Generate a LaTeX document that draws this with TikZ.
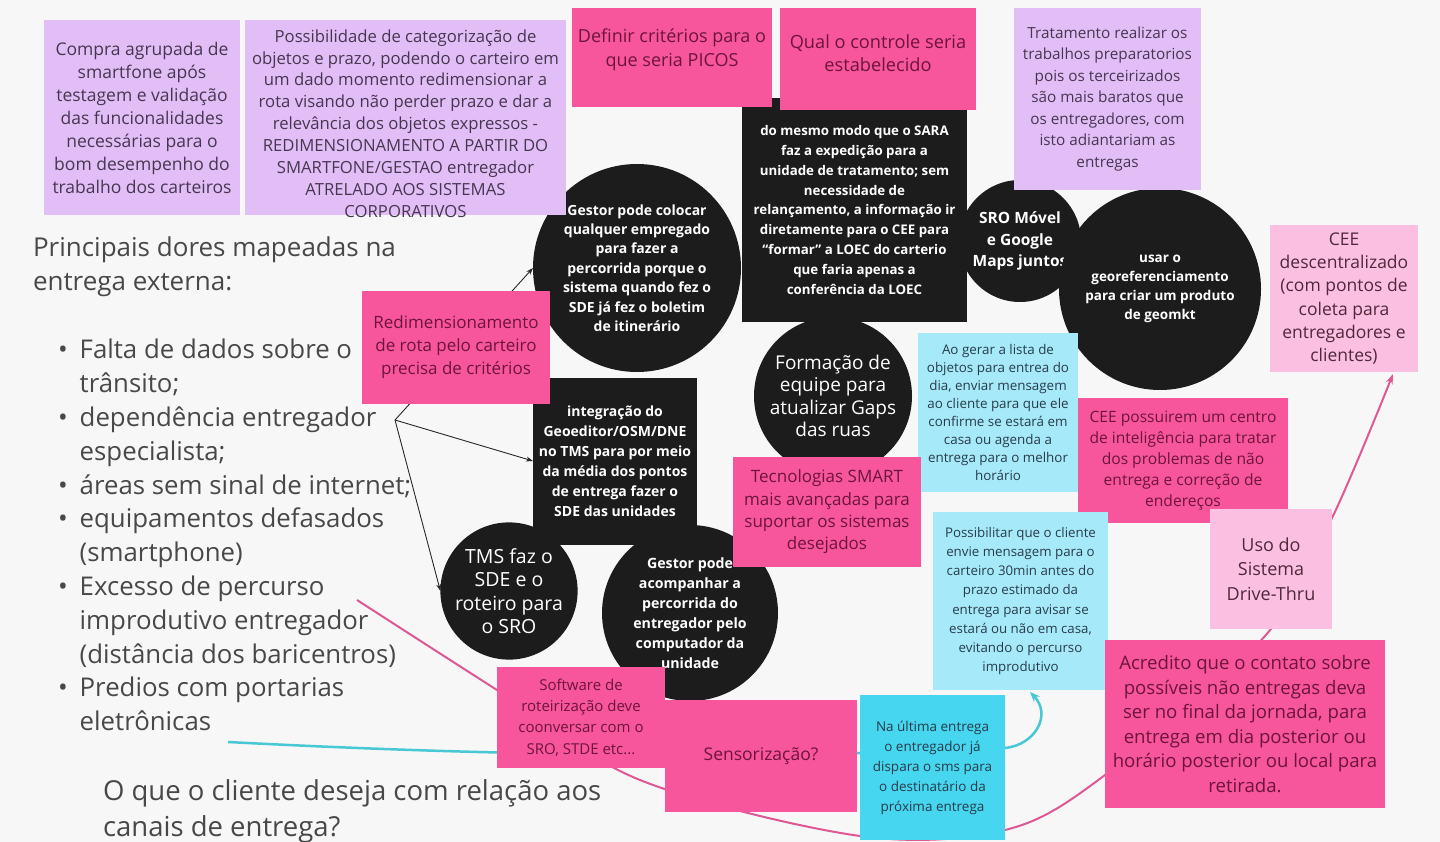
\documentclass[tikz,border=0pt]{standalone}
\usepackage{fontspec}
\setmainfont{Open Sans}
\usetikzlibrary{arrows.meta}
\definecolor{cBg}{RGB}{247,247,248}
\definecolor{cPurple}{RGB}{226,190,247}
\definecolor{cPurpleTxt}{RGB}{70,55,80}
\definecolor{cPink}{RGB}{247,86,156}
\definecolor{cPinkTxt}{RGB}{110,20,60}
\definecolor{cLPink}{RGB}{251,191,226}
\definecolor{cLPinkTxt}{RGB}{80,40,60}
\definecolor{cCyan}{RGB}{166,233,249}
\definecolor{cCyanB}{RGB}{70,214,239}
\definecolor{cCyanTxt}{RGB}{40,60,75}
\definecolor{cBlack}{RGB}{28,28,28}
\definecolor{cLeft}{RGB}{72,72,72}
\definecolor{cArr}{RGB}{40,40,40}
\definecolor{cPinkLine}{RGB}{222,88,148}
\definecolor{cCyanLine}{RGB}{72,200,212}
\newcommand\fsz[2]{\fontsize{#1}{#2}\selectfont}
\tikzset{
  every node/.style={inner sep=0pt, outer sep=0pt, align=center},
  purplebox/.style={rectangle, fill=cPurple, text=cPurpleTxt},
  pinkbox/.style={rectangle, fill=cPink, text=cPinkTxt},
  lpinkbox/.style={rectangle, fill=cLPink, text=cLPinkTxt},
  cyanbox/.style={rectangle, fill=cCyan, text=cCyanTxt},
  cyanboxb/.style={rectangle, fill=cCyanB, text=cCyanTxt},
  blackbox/.style={rectangle, fill=cBlack, text=white},
  blackcirc/.style={circle, fill=cBlack, text=white},
  lefttext/.style={text=cLeft, align=left},
  arr/.style={draw=cArr, line width=0.9pt, -{Stealth[length=7pt,width=5pt]}},
  pinkline/.style={draw=cPinkLine, line width=2pt, -{Stealth[length=10pt,width=7pt]}},
  cyanline/.style={draw=cCyanLine, line width=2.5pt, -{Stealth[length=10pt,width=8pt]}}
}
\begin{document}
\begin{tikzpicture}[x=1pt,y=-1pt]
\useasboundingbox (0,0) rectangle (1440,842);
\fill[cBg] (0,0) rectangle (1440,842);

% free ends of connectors
\coordinate (pkS) at (357,600);
\coordinate (pk1) at (497,690);
\coordinate (pk2) at (640,780);
\coordinate (pk3) at (860,836);
\coordinate (pk4) at (1005,830);
\coordinate (pk5) at (1105,775);
\coordinate (pk6) at (1265,636);
\coordinate (pk7) at (1332,518);
\coordinate (pkE) at (1393,374);
\coordinate (cyS) at (228,742);
\coordinate (cyM) at (1005,748);
\coordinate (cyE) at (1030,692);
\coordinate (dep) at (395,420);

% curves behind everything
\draw[pinkline] plot[smooth, tension=0.55] coordinates {(pkS) (pk1) (pk2) (pk3) (pk4) (pk5) (pk6) (pk7) (pkE)};
\draw[cyanline] (cyS) .. controls (420,752) and (700,762) .. (cyM) .. controls (1035,745) and (1052,715) .. (cyE);

% black shapes
\node[blackbox, minimum width=225pt, minimum height=224pt, font=\bfseries\fsz{13.3}{19.9}] (sara) at (854.5,210)
 {do mesmo modo que o SARA\\faz a expedição para a\\unidade de tratamento; sem\\necessidade de\\relançamento, a informação ir\\diretamente para o CEE para\\“formar” a LOEC do carterio\\que faria apenas a\\conferência da LOEC};
\node[blackcirc, minimum size=208pt, font=\bfseries\fsz{14}{19.4}] (gestorc) at (637,268)
 {Gestor pode colocar\\qualquer empregado\\para fazer a\\percorrida porque o\\sistema quando fez o\\SDE já fez o boletim\\de itinerário};
\node[blackcirc, minimum size=122pt, font=\bfseries\fsz{15.5}{21.5}] (sro) at (1020,241)
 {SRO Móvel\\e Google\\Maps juntos};
\node[blackcirc, minimum size=202pt, font=\bfseries\fsz{13.5}{19}] (geo) at (1160,289)
 {usar o\\georeferenciamento\\para criar um produto\\de geomkt};
\node[blackbox, minimum width=164pt, minimum height=167pt, font=\bfseries\fsz{14}{20}] (integ) at (615,461)
 {integração do\\Geoeditor/OSM/DNE\\no TMS para por meio\\da média dos pontos\\de entrega fazer o\\SDE das unidades};
\node[blackcirc, minimum size=158pt, font=\fsz{19}{22.5}] (form) at (833,396)
 {Formação de\\equipe para\\atualizar Gaps\\das ruas};
\node[blackcirc, minimum size=128pt, font=\fsz{19.5}{23.3}] (tms) at (509,591)
 {TMS faz o\\SDE e o\\roteiro para\\o SRO};
\node[blackcirc, minimum size=176pt, font=\bfseries\fsz{14.2}{20}] (gestora) at (690,613)
 {Gestor pode\\acompanhar a\\percorrida do\\entregador pelo\\computador da\\unidade};

% arrows from the list
\draw[arr] (dep) -- (gestorc.west);
\draw[arr] (dep) -- (integ.west);
\draw[arr] (dep) -- (tms.west);

% coloured notes
\node[purplebox, minimum width=196pt, minimum height=195pt, font=\fsz{17.5}{23}] (compra) at (142,117.5)
 {Compra agrupada de\\smartfone após\\testagem e validação\\das funcionalidades\\necessárias para o\\bom desempenho do\\trabalho dos carteiros};
\node[purplebox, minimum width=321pt, minimum height=195pt] (possib) at (405.5,117.5) {};
\node[text=cPurpleTxt, font=\fsz{16.7}{21.9}] (possibT) at (405.5,123.5)
 {Possibilidade de categorização de\\objetos e prazo, podendo o carteiro em\\um dado momento redimensionar a\\rota visando não perder prazo e dar a\\relevância dos objetos expressos -\\REDIMENSIONAMENTO A PARTIR DO\\SMARTFONE/GESTAO entregador\\ATRELADO AOS SISTEMAS\\CORPORATIVOS};
\node[pinkbox, minimum width=200pt, minimum height=99pt] (definir) at (672,57.5) {};
\node[text=cPinkTxt, font=\fsz{18}{24}] (definirT) at (672,50)
 {Definir critérios para o\\que seria PICOS};
\node[pinkbox, minimum width=196pt, minimum height=102pt] (qual) at (878,59) {};
\node[text=cPinkTxt, font=\fsz{18.2}{23}] (qualT) at (878,53)
 {Qual o controle seria\\estabelecido};
\node[purplebox, minimum width=187pt, minimum height=182pt, font=\fsz{15.3}{21.5}] (trat) at (1107.5,99)
 {Tratamento realizar os\\trabalhos preparatorios\\pois os terceirizados\\são mais baratos que\\os entregadores, com\\isto adiantariam as\\entregas};
\node[lpinkbox, minimum width=148pt, minimum height=147pt, font=\fsz{17.5}{23.2}] (ceed) at (1344,298.5)
 {CEE\\descentralizado\\(com pontos de\\coleta para\\entregadores e\\clientes)};
\node[pinkbox, minimum width=188pt, minimum height=113pt, font=\fsz{17}{23}] (redim) at (456,347.5)
 {Redimensionamento\\de rota pelo carteiro\\precisa de critérios};
\node[cyanbox, minimum width=160pt, minimum height=159pt, font=\fsz{13.4}{18}] (aogerar) at (998,412.5)
 {Ao gerar a lista de\\objetos para entrea do\\dia, enviar mensagem\\ao cliente para que ele\\confirme se estará em\\casa ou agenda a\\entrega para o melhor\\horário};
\node[pinkbox, minimum width=210pt, minimum height=125pt, font=\fsz{15.6}{21}] (ceep) at (1183,460.5)
 {CEE possuirem um centro\\de inteligência para tratar\\dos problemas de não\\entrega e correção de\\endereços};
\node[pinkbox, minimum width=188pt, minimum height=110pt, font=\fsz{17}{22.3}] (tec) at (827,512)
 {Tecnologias SMART\\mais avançadas para\\suportar os sistemas\\desejados};
\node[lpinkbox, minimum width=122pt, minimum height=120pt, font=\fsz{18}{24.5}] (uso) at (1271,569)
 {Uso do\\Sistema\\Drive-Thru};
\node[cyanbox, minimum width=175pt, minimum height=178pt, font=\fsz{13.3}{19.1}] (possi) at (1020.5,601)
 {Possibilitar que o cliente\\envie mensagem para o\\carteiro 30min antes do\\prazo estimado da\\entrega para avisar se\\estará ou não em casa,\\evitando o percurso\\improdutivo};
\node[pinkbox, minimum width=168pt, minimum height=101pt, font=\fsz{15}{21.3}] (soft) at (581,717.5)
 {Software de\\roteirização deve\\coonversar com o\\SRO, STDE etc...};
\node[pinkbox, minimum width=192pt, minimum height=112pt, font=\fsz{17.5}{22}] (sens) at (761,756)
 {Sensorização?};
\node[cyanboxb, minimum width=145pt, minimum height=145pt, font=\fsz{13.5}{20}] (ultima) at (932.5,767.5)
 {Na última entrega\\o entregador já\\dispara o sms para\\o destinatário da\\próxima entrega};
\node[pinkbox, minimum width=280pt, minimum height=168pt, font=\fsz{18.6}{24.6}] (acred) at (1245,724)
 {Acredito que o contato sobre\\possíveis não entregas deva\\ser no final da jornada, para\\entrega em dia posterior ou\\horário posterior ou local para\\retirada.};

% left text
\node[lefttext, anchor=west, font=\fsz{26}{34}] (title) at (33,267)
 {Principais dores mapeadas na\\entrega externa:};
\node[lefttext, anchor=west, font=\fsz{25.8}{33.8}] (list) at (58,538)
 {\begin{tabular}{@{}l@{\hspace{12pt}}l@{}}
 • & Falta de dados sobre o\\
   & trânsito;\\
 • & dependência entregador\\
   & especialista;\\
 • & áreas sem sinal de internet;\\
 • & equipamentos defasados\\
   & (smartphone)\\
 • & Excesso de percurso\\
   & improdutivo entregador\\
   & (distância dos baricentros)\\
 • & Predios com portarias\\
   & eletrônicas
 \end{tabular}};
\node[lefttext, anchor=west, font=\fsz{27.5}{36}] (quest) at (103,811)
 {O que o cliente deseja com relação aos\\canais de entrega?};
\end{tikzpicture}
\end{document}
